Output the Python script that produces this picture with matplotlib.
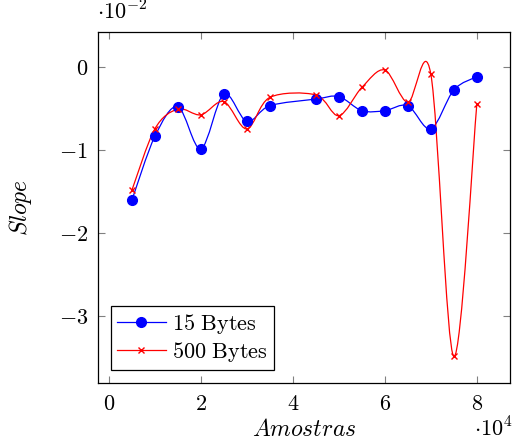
import numpy as np
import matplotlib
matplotlib.use('Agg')
import matplotlib.pyplot as plt
from matplotlib.path import Path
from matplotlib.patches import PathPatch
from matplotlib.lines import Line2D

plt.rcParams['mathtext.fontset'] = 'cm'
plt.rcParams['font.family'] = 'serif'
plt.rcParams['font.serif'] = ['DejaVu Serif']

# dados (x em 10^4, y em 10^-2)
amostras = [0.5, 1.0, 1.5, 2.0, 2.5, 3.0, 3.5, 4.5, 5.0, 5.5, 6.0, 6.5, 7.0, 7.5, 8.0]
slope_15 = [-1.61, -0.84, -0.48, -0.99, -0.33, -0.66, -0.47, -0.39, -0.36,
            -0.53, -0.53, -0.47, -0.75, -0.28, -0.12]
slope_500 = [-1.49, -0.75, -0.51, -0.58, -0.42, -0.75, -0.37, -0.34, -0.59,
             -0.25, -0.04, -0.43, -0.09, -3.49, -0.45]
rotulos = ['15 Bytes', '500 Bytes']


def curva_suave(ax, x, y, cor, k=0.16):
    # curva "smooth" estilo pgfplots, feita com beziers cubicas
    pts = np.column_stack([x, y])
    # trabalha em coordenadas de tela para a tangente ficar parecida
    tela = ax.transData.transform(pts)
    n = len(tela)
    verts = [tela[0]]
    codes = [Path.MOVETO]
    for i in range(n - 1):
        p0 = tela[i - 1] if i > 0 else tela[i]
        p1 = tela[i]
        p2 = tela[i + 1]
        p3 = tela[i + 2] if i + 2 < n else tela[i + 1]
        c1 = p1 + k * (p2 - p0)
        c2 = p2 - k * (p3 - p1)
        verts += [c1, c2, p2]
        codes += [Path.CURVE4] * 3
    verts = ax.transData.inverted().transform(np.array(verts))
    patch = PathPatch(Path(verts, codes), facecolor='none', edgecolor=cor, lw=0.9)
    ax.add_patch(patch)


fig = plt.figure(figsize=(5.12, 4.48), dpi=100)
ax = fig.add_axes([0.191, 0.145, 0.805, 0.784])
ax.set_xlim(-0.24, 8.72)
ax.set_ylim(-3.81, 0.42)

curva_suave(ax, amostras, slope_15, 'blue')
curva_suave(ax, amostras, slope_500, 'red')
ax.plot(amostras, slope_15, 'o', color='blue', ms=7, zorder=3)
ax.plot(amostras, slope_500, 'x', color='red', ms=5, mew=1, zorder=3)

ax.set_xticks([0, 2, 4, 6, 8])
ax.set_yticks([0, -1, -2, -3])
ax.set_xticklabels([f'${v}$' for v in [0, 2, 4, 6, 8]], fontsize=16)
ax.set_yticklabels([f'${v}$' for v in [0, -1, -2, -3]], fontsize=16)
ax.tick_params(direction='in', top=True, right=True, color='gray', length=5, pad=7)
for s in ax.spines.values():
    s.set_linewidth(0.9)

ax.set_xlabel('$Amostras$', fontsize=17, labelpad=2)
ax.set_ylabel('$Slope$', fontsize=17, labelpad=18)
fig.text(0.19, 0.945, r'$\cdot10^{-2}$', fontsize=16, ha='left', va='bottom')
fig.text(0.925, 0.015, r'$\cdot10^{4}$', fontsize=16, ha='left', va='bottom')

handles = [Line2D([], [], color='blue', marker='o', ms=7, lw=0.9),
           Line2D([], [], color='red', marker='x', ms=5, lw=0.9)]
leg = ax.legend(handles, [r'$\mathrm{15\ Bytes}$', r'$\mathrm{500\ Bytes}$'],
                loc='lower left', fontsize=16, fancybox=False, framealpha=1,
                edgecolor='black', handlelength=2.2, handletextpad=0.3,
                borderpad=0.25, labelspacing=0.2, borderaxespad=0.6)
leg.get_frame().set_linewidth(0.9)

plt.savefig('out.png', dpi=100)
